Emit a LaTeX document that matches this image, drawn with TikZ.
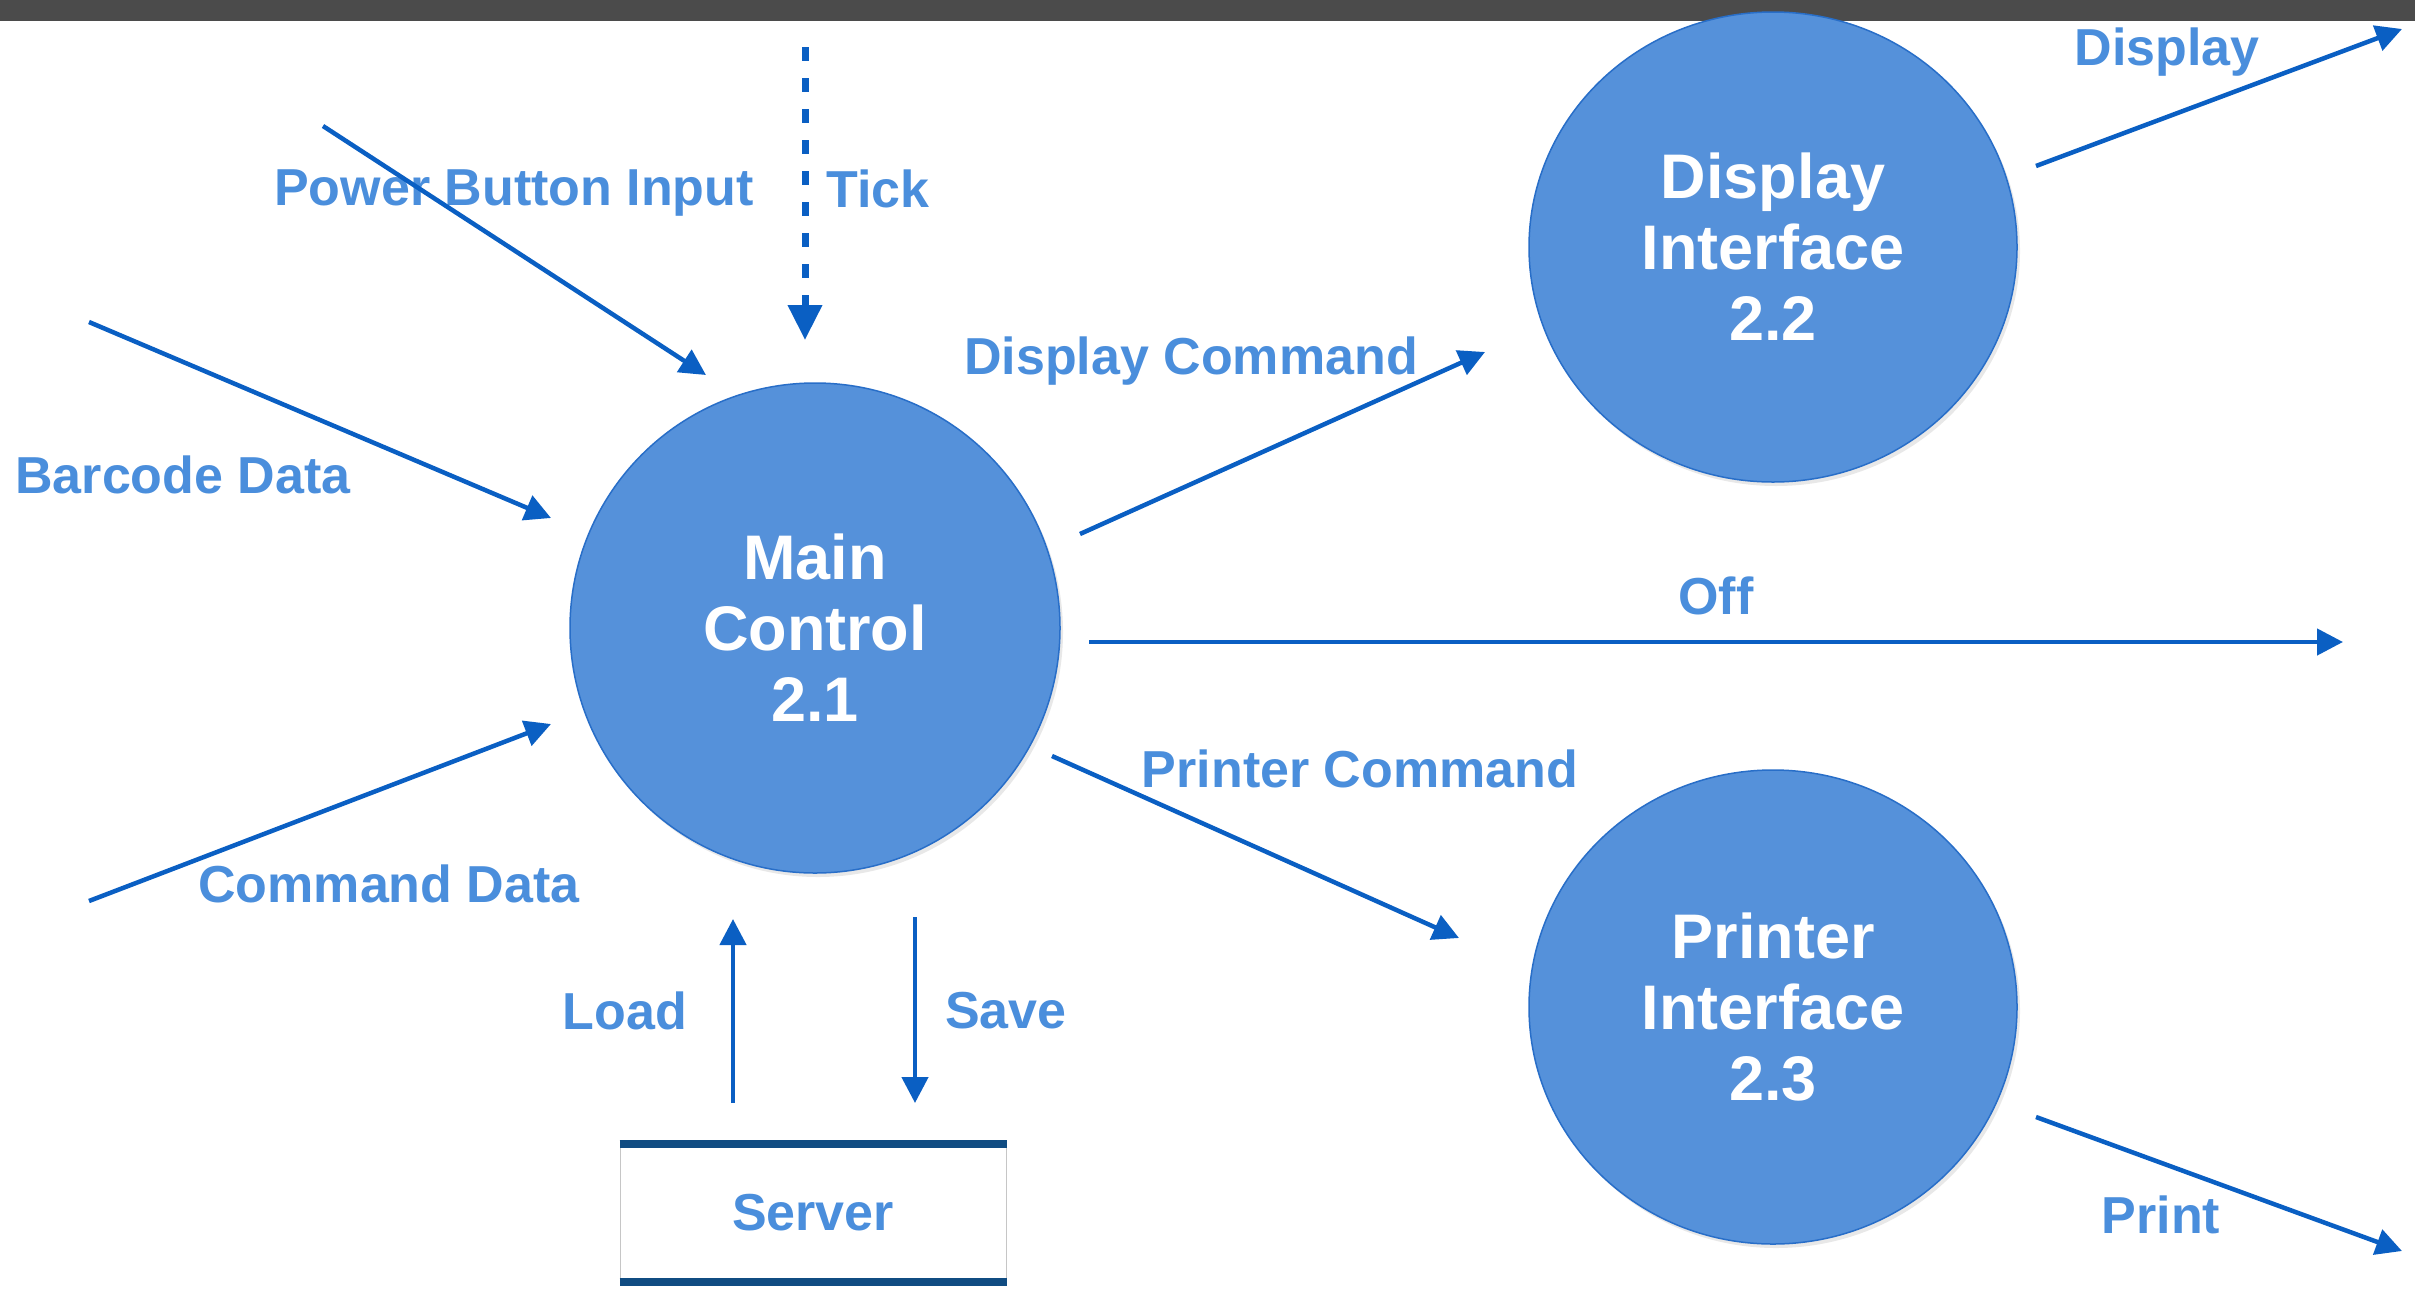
\documentclass[tikz,border=0pt]{standalone}
\usepackage{fontspec}
\setmainfont{Liberation Sans}
\usetikzlibrary{arrows.meta,shadows,shapes.geometric}
\definecolor{circfill}{RGB}{85,145,218}
\definecolor{circedge}{RGB}{40,110,200}
\definecolor{arrowblue}{RGB}{10,95,195}
\definecolor{labelblue}{RGB}{74,142,220}
\definecolor{navy}{RGB}{16,76,130}
\definecolor{band}{RGB}{75,75,75}
\tikzset{
  proc/.style={ellipse, fill=circfill, draw=circedge, line width=1.5pt, minimum width=490pt, minimum height=490pt, inner sep=0pt,
    text=white, font=\bfseries\fontsize{63}{71}\selectfont, align=center,
    drop shadow={opacity=0.18, shadow xshift=3pt, shadow yshift=-4pt}},
  flow/.style={draw=arrowblue, line width=4.5pt, -{Triangle[length=26pt,width=26pt]}},
  tickflow/.style={draw=arrowblue, line width=7pt, dash pattern=on 14pt off 17pt, -{Triangle[length=35pt,width=33pt]}},
  lbl/.style={text=labelblue, font=\bfseries\fontsize{52}{60}\selectfont, inner sep=0pt},
}
\begin{document}
\begin{tikzpicture}[x=1pt,y=-1pt]
\useasboundingbox (0,0) rectangle (2415,1291);
\fill[white] (0,0) rectangle (2415,1291);
% top band
\fill[band] (0,0) rectangle (2415,21);
% processes
\node[proc] (main) at (815,628) {Main\\Control\\2.1};
\node[proc, minimum width=488pt, minimum height=470pt] (disp) at (1773,247) {Display\\Interface\\2.2};
\node[proc, minimum width=488pt, minimum height=474pt] (prnt) at (1773,1007) {Printer\\Interface\\2.3};
% server store
\node[lbl, minimum width=386pt, minimum height=137pt, fill=white, draw=gray!45, line width=1pt] (server) at (813,1213) {Server};
\draw[navy, line width=8pt] (server.north west) -- (server.north east);
\draw[navy, line width=8pt] (server.south west) -- (server.south east);
% coordinates
\coordinate (pbiS) at (323,126);  \coordinate (pbiE) at (706,375);
\coordinate (tickS) at (805,47);  \coordinate (tickE) at (805,340);
\coordinate (barS) at (89,322);   \coordinate (barE) at (551,518);
\coordinate (cmdS) at (89,901);   \coordinate (cmdE) at (551,724);
\coordinate (loadS) at (733,1103); \coordinate (loadE) at (733,919);
\coordinate (saveS) at (915,917); \coordinate (saveE) at (915,1103);
\coordinate (dcS) at (1080,534);  \coordinate (dcE) at (1485,352);
\coordinate (offS) at (1089,642); \coordinate (offE) at (2343,642);
\coordinate (pcS) at (1052,756);  \coordinate (pcE) at (1459,938);
\coordinate (dS) at (2036,166);   \coordinate (dE) at (2402,29);
\coordinate (pS) at (2036,1117);  \coordinate (pE) at (2402,1251);
% labels (drawn under the arrows)
\node[lbl] (lpbi) at (514,193) {Power Button Input};
\node[lbl] (ltick) at (878,189) {Tick};
\node[lbl] (lbar) at (183,475) {Barcode Data};
\node[lbl] (lcmd) at (389,884) {Command Data};
\node[lbl] (lload) at (625,1011) {Load};
\node[lbl] (lsave) at (1006,1011) {Save};
\node[lbl] (ldc) at (1191,361) {Display Command};
\node[lbl] (loff) at (1716,596) {Off};
\node[lbl] (lpc) at (1360,769) {Printer Command};
\node[lbl] (ld) at (2167,52) {Display};
\node[lbl] (lp) at (2161,1215) {Print};
% flows
\draw[flow] (pbiS) -- (pbiE);
\draw[tickflow] (tickS) -- (tickE);
\draw[flow] (barS) -- (barE);
\draw[flow] (cmdS) -- (cmdE);
\draw[flow] (loadS) -- (loadE);
\draw[flow] (saveS) -- (saveE);
\draw[flow] (dcS) -- (dcE);
\draw[flow] (offS) -- (offE);
\draw[flow] (pcS) -- (pcE);
\draw[flow] (dS) -- (dE);
\draw[flow] (pS) -- (pE);
\end{tikzpicture}
\end{document}
